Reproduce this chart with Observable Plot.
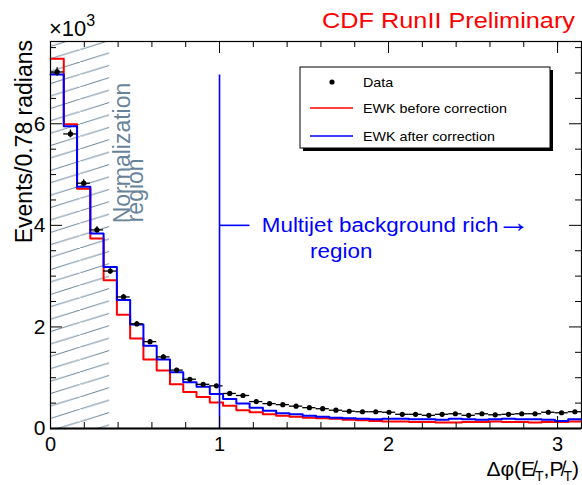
<!DOCTYPE html>
<html><head><meta charset="utf-8">
<script src="https://cdn.jsdelivr.net/npm/d3@7"></script>
<script src="https://cdn.jsdelivr.net/npm/@observablehq/plot@0.6"></script>
<style>html,body{margin:0;padding:0;background:#fff} svg{display:block}</style>
</head><body><div id="chart"></div>
<script>
// ---- data (events, in units of 10^3) ----
const nBins = 40;
const xMax = Math.PI;
const yMax = 7.62;
const dataEvents = [7.02,5.80,4.83,3.91,3.10,2.59,2.06,1.71,1.41,1.15,
                    0.97,0.87,0.84,0.69,0.65,0.53,0.49,0.47,0.44,0.41,
                    0.39,0.36,0.34,0.33,0.33,0.32,0.28,0.28,0.26,0.28,
                    0.29,0.26,0.29,0.27,0.28,0.29,0.29,0.32,0.31,0.33];
const dataErrors = [0.085,0.077,0.070,0.063,0.056,0.051,0.045,0.041,0.038,0.034,
                    0.031,0.029,0.029,0.026,0.025,0.023,0.022,0.022,0.021,0.020,
                    0.020,0.019,0.018,0.018,0.018,0.018,0.017,0.017,0.017,0.017,
                    0.017,0.017,0.017,0.017,0.017,0.017,0.017,0.018,0.018,0.018];
const ewkBefore = [7.28,5.99,4.72,3.74,2.92,2.24,1.77,1.36,1.14,0.87,
                   0.72,0.62,0.51,0.45,0.36,0.32,0.28,0.25,0.23,0.21,
                   0.20,0.19,0.17,0.16,0.15,0.14,0.14,0.13,0.13,0.12,
                   0.12,0.13,0.13,0.14,0.13,0.13,0.12,0.13,0.13,0.14];
const ewkAfter  = [6.97,5.95,4.76,3.84,3.18,2.53,2.05,1.63,1.36,1.11,
                   0.91,0.82,0.68,0.58,0.49,0.41,0.35,0.30,0.28,0.25,
                   0.23,0.21,0.20,0.19,0.18,0.19,0.19,0.18,0.18,0.17,
                   0.19,0.18,0.17,0.18,0.19,0.18,0.18,0.17,0.15,0.18];
const xTickLabels = [0,1,2,3];
const xMinorTicks = [0.2,0.4,0.6,0.8,1.2,1.4,1.6,1.8,2.2,2.4,2.6,2.8,3.0];
const yTickLabels = [0,2,4,6];
const yMinorTicks = [0.5,1,1.5,2.5,3,3.5,4.5,5,5.5,6.5,7,7.5];
const normRegion = [{x1:0, x2:0.35, y1:0, y2:yMax}];
const multijetLine = [{x:1, y1:0, y2:6.96}];
const arrowLine = [{x1:1, x2:1.18, y:4.0}];
const normLabels = [{text:"Normalization", x:0.473, y:4.04}, {text:"region", x:0.55, y:4.06}];
const mjLabel1 = [{text:"Multijet background rich", x:1.25, y:3.87}];
const mjArrow = [{text:"\u2192", x:2.64, y:3.87}];
const mjLabel2 = [{text:"region", x:1.72, y:3.36}];
const legendItems = ["Data","EWK before correction","EWK after correction"];
const titleText = "CDF RunII Preliminary";
const yLabelText = "Events/0.78 radians";

// ---- derived tables ----
const bw = xMax / nBins;
const dataPts = dataEvents.map((v,i)=>({lo:i*bw, hi:(i+1)*bw, c:(i+0.5)*bw, v, e:dataErrors[i]}));
const steps = arr => arr.map((v,i)=>({x:i*bw, y:v})).concat([{x:xMax, y:arr[arr.length-1]}]);

const W = 582, H = 485, mL = 50, mR = 1, mT = 41, mB = 57;
const fw = W-mL-mR, fh = H-mT-mB;
const FONT = "'Liberation Sans', Arial, Helvetica, sans-serif";
const slate = "#68839a";

const plot = Plot.plot({
  width: W, height: H, marginLeft: mL, marginRight: mR, marginTop: mT, marginBottom: mB,
  x: {domain:[0,xMax], axis:null},
  y: {domain:[0,yMax], axis:null},
  style: {fontFamily: FONT, background:"white", overflow:"visible"},
  marks: [
    Plot.rect(normRegion, {x1:"x1", x2:"x2", y1:"y1", y2:"y2", fill:"url(#hatch)"}),
    Plot.line(steps(ewkBefore), {x:"x", y:"y", curve:"step-after", stroke:"#ff0000", strokeWidth:2}),
    Plot.line(steps(ewkAfter), {x:"x", y:"y", curve:"step-after", stroke:"#0000ff", strokeWidth:2}),
    Plot.ruleY(dataPts, {x1:"lo", x2:"hi", y:"v", stroke:"black", strokeWidth:1.3}),
    Plot.ruleX(dataPts, {x:"c", y1:d=>d.v-d.e, y2:d=>d.v+d.e, stroke:"black", strokeWidth:1.3}),
    Plot.dot(dataPts, {x:"c", y:"v", r:2.6, fill:"black", stroke:"none"}),
    Plot.ruleX(multijetLine, {x:"x", y1:"y1", y2:"y2", stroke:"#0000ff", strokeWidth:1.6}),
    Plot.ruleY(arrowLine, {x1:"x1", x2:"x2", y:"y", stroke:"#0000ff", strokeWidth:1.6}),
    Plot.text(normLabels, {x:"x", y:"y", text:"text", rotate:-90, textAnchor:"start", lineAnchor:"bottom", fill:slate, fontSize:23}),
    Plot.text(mjLabel1, {x:"x", y:"y", text:"text", textAnchor:"start", lineAnchor:"bottom", fill:"#0000ff", fontSize:20}),
    Plot.text(mjArrow, {x:"x", y:"y", text:"text", textAnchor:"start", lineAnchor:"bottom", fill:"#0000ff", fontSize:30}),
    Plot.text(mjLabel2, {x:"x", y:"y", text:"text", textAnchor:"middle", lineAnchor:"bottom", fill:"#0000ff", fontSize:20}),
    // frame & ticks
    Plot.frame({stroke:"black", strokeWidth:1.2}),
    Plot.ruleY([0], {stroke:"black", strokeWidth:2}),
    Plot.ruleX(xTickLabels, {x:d=>d, insetTop:fh-12, stroke:"black", strokeWidth:1}),
    Plot.ruleX(xMinorTicks, {x:d=>d, insetTop:fh-6, stroke:"black", strokeWidth:1}),
    Plot.ruleX(xTickLabels, {x:d=>d, insetBottom:fh-12, stroke:"black", strokeWidth:1}),
    Plot.ruleX(xMinorTicks, {x:d=>d, insetBottom:fh-6, stroke:"black", strokeWidth:1}),
    Plot.ruleY(yTickLabels, {y:d=>d, insetRight:fw-12, stroke:"black", strokeWidth:1}),
    Plot.ruleY(yMinorTicks, {y:d=>d, insetRight:fw-6, stroke:"black", strokeWidth:1}),
    Plot.ruleY(yTickLabels, {y:d=>d, insetLeft:fw-12, stroke:"black", strokeWidth:1}),
    Plot.ruleY(yMinorTicks, {y:d=>d, insetLeft:fw-6, stroke:"black", strokeWidth:1}),
    Plot.text(xTickLabels, {x:d=>d, text:d=>String(d), frameAnchor:"bottom", lineAnchor:"middle", dy:16, fontSize:20, fill:"black"}),
    Plot.text(yTickLabels, {y:d=>d, text:d=>String(d), frameAnchor:"left", textAnchor:"end", dx:-5, fontSize:21, fill:"black"})
  ]
});
document.getElementById("chart").appendChild(plot);

const svg = d3.select(plot);
// hatch pattern
const defs = svg.insert("defs", ":first-child");
const pat = defs.append("pattern").attr("id","hatch").attr("patternUnits","userSpaceOnUse")
  .attr("width",40).attr("height",12.4);
pat.append("line").attr("x1",0).attr("y1",12.4).attr("x2",40).attr("y2",0)
  .attr("stroke","#6a859c").attr("stroke-width",1);

function stretch(sel, f){ sel.each(function(){ const L=this.getComputedTextLength(); this.setAttribute("textLength", L*f); this.setAttribute("lengthAdjust","spacingAndGlyphs"); }); }

// stretch horizontal annotation texts
stretch(svg.selectAll("text").filter(function(){ return this.textContent.startsWith("Multijet") || this.textContent==="\u2192" || (this.textContent==="region" && !(this.getAttribute("transform")||"").includes("rotate")); }), 1.12);

// title
const title = svg.append("text").attr("x",322).attr("y",28).attr("fill","#ff0000").attr("text-anchor","start")
  .attr("font-family",FONT).attr("font-size",22).text(titleText);
title.attr("textLength",253).attr("lengthAdjust","spacingAndGlyphs");

// x10^3
const exp = svg.append("text").attr("x",49).attr("y",36).attr("text-anchor","start").attr("font-family",FONT).attr("font-size",22).attr("fill","black");
exp.append("tspan").text("\u00d710");
exp.append("tspan").attr("dy",-10).attr("font-size",16).text("3");

// y label
svg.append("text").attr("transform","translate(32,40) rotate(-90)").attr("text-anchor","end")
  .attr("font-family",FONT).attr("font-size",23).attr("fill","black").text(yLabelText);

// x label
const xl = svg.append("text").attr("x",579).attr("y",476).attr("text-anchor","end")
  .attr("font-family",FONT).attr("font-size",21).attr("fill","black");
xl.append("tspan").text("\u0394\u03c6(E\u0338");
xl.append("tspan").attr("dy",5).attr("font-size",14).text("T");
xl.append("tspan").attr("dy",-5).text(",P\u0338");
xl.append("tspan").attr("dy",5).attr("font-size",14).text("T");
xl.append("tspan").attr("dy",-5).text(")");

// legend
const lg = svg.append("g").attr("text-anchor","start");
lg.append("rect").attr("x",303).attr("y",70).attr("width",250).attr("height",81).attr("fill","black");
lg.append("rect").attr("x",300).attr("y",67).attr("width",250).attr("height",81).attr("fill","white").attr("stroke","black").attr("stroke-width",1);
lg.append("circle").attr("cx",332).attr("cy",82).attr("r",2.6).attr("fill","black");
lg.append("line").attr("x1",310).attr("x2",353).attr("y1",108).attr("y2",108).attr("stroke","#ff0000").attr("stroke-width",1.6);
lg.append("line").attr("x1",310).attr("x2",353).attr("y1",136).attr("y2",136).attr("stroke","#0000ff").attr("stroke-width",1.6);
const ly = [87,113,141];
legendItems.forEach((t,i)=>{
  lg.append("text").attr("x",363).attr("y",ly[i]).attr("text-anchor","start").attr("font-family",FONT).attr("font-size",13).attr("fill","black").text(t);
});
stretch(lg.selectAll("text"), 1.1);
</script>
</body></html>
